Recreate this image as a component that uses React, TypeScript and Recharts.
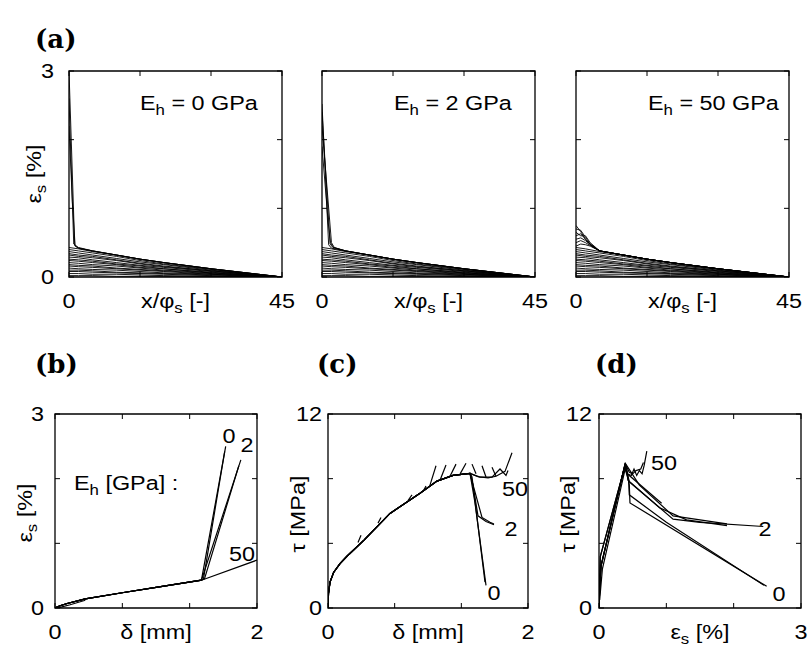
import React from "react";
import { LineChart, Line, XAxis, YAxis, ReferenceArea } from "recharts";

type Pt = [number, number];

const FONT = "'Liberation Sans', Arial, Helvetica, sans-serif";
const FS = 19.5;
const SX = 1.2;
const TICK = 5;

// ---------- (a) strain along the bar, x/phi_s
const aTicksX = [0, 15, 30, 45];
const aLabelsX = [0, 45];
const aTicksY = [0, 1, 2, 3];
const aLabelsY = [0, 3];
const aStations = [0, 2, 5, 10, 15, 20, 30, 45];
// one row per load step, strain [%] at the stations above
const aLowSteps = [
  [0.43, 0.41, 0.37, 0.32, 0.26, 0.21, 0.12, 0],
  [0.4, 0.38, 0.35, 0.3, 0.24, 0.19, 0.11, 0],
  [0.37, 0.35, 0.32, 0.27, 0.22, 0.18, 0.1, 0],
  [0.34, 0.32, 0.3, 0.25, 0.2, 0.16, 0.09, 0],
  [0.32, 0.3, 0.28, 0.24, 0.19, 0.15, 0.09, 0],
  [0.29, 0.28, 0.25, 0.21, 0.17, 0.14, 0.08, 0],
  [0.26, 0.25, 0.23, 0.19, 0.16, 0.12, 0.07, 0],
  [0.24, 0.23, 0.21, 0.18, 0.14, 0.12, 0.06, 0],
  [0.21, 0.2, 0.18, 0.16, 0.13, 0.1, 0.06, 0],
  [0.18, 0.17, 0.16, 0.13, 0.11, 0.09, 0.05, 0],
  [0.16, 0.15, 0.14, 0.12, 0.1, 0.08, 0.04, 0],
  [0.13, 0.12, 0.11, 0.1, 0.08, 0.06, 0.04, 0],
  [0.1, 0.1, 0.09, 0.07, 0.06, 0.05, 0.03, 0],
  [0.08, 0.08, 0.07, 0.06, 0.05, 0.04, 0.02, 0],
  [0.05, 0.05, 0.04, 0.04, 0.03, 0.02, 0.01, 0],
  [0.02, 0.02, 0.02, 0.01, 0.01, 0.01, 0.01, 0],
];
const aTail: Pt[] = [[5, 0.38], [10, 0.32], [15, 0.26], [20, 0.21], [30, 0.12], [45, 0]];
const aPeakE0: Pt[][] = [
  [[0, 3.0], [1.2, 0.46], [2, 0.42]],
  [[0, 2.6], [1.0, 0.48], [2, 0.43]],
  [[0, 2.2], [0.7, 1.1], [1.3, 0.45], [2, 0.42]],
];
const aPeakE2: Pt[][] = [
  [[0, 2.52], [1.4, 0.47], [2, 0.42]],
  [[0, 2.4], [1.7, 0.48], [2.3, 0.43]],
  [[0, 2.2], [2.0, 0.5], [2.6, 0.43]],
  [[0, 1.9], [1.3, 0.8], [1.8, 0.5], [2.4, 0.43]],
];
const aPeakE50: Pt[][] = [
  [[0, 0.75], [1, 0.66], [2, 0.55], [3.5, 0.44]],
  [[0, 0.7], [1, 0.68], [2, 0.58], [3, 0.48]],
  [[0, 0.65], [1, 0.6], [2, 0.6], [3, 0.5]],
  [[0, 0.6], [1, 0.63], [2, 0.55], [3, 0.48]],
  [[0, 0.55], [1, 0.57], [2, 0.53], [3, 0.47]],
  [[0, 0.5], [1, 0.53], [2, 0.5], [3, 0.46]],
  [[0, 0.45], [1, 0.48], [2, 0.47], [3, 0.45]],
];

// ---------- (b) strain vs slip
const bTicksX = [0, 0.6667, 1.3333, 2];
const bLabelsX = [0, 2];
const bTicksY = [0, 1, 2, 3];
const bLabelsY = [0, 3];
const bRise: Pt[] = [[0, 0], [0.05, 0.035], [0.12, 0.07], [0.3, 0.14], [0.68, 0.24], [1.0, 0.32], [1.45, 0.43]];
const bRiseAlt: Pt[] = [[0, 0], [0.05, 0.01], [0.15, 0.05], [0.3, 0.12]];
const bE0: Pt[] = [[1.69, 2.5]];
const bE0Alt: Pt[] = [[1.47, 0.45], [1.68, 2.42]];
const bE2: Pt[] = [[1.84, 2.29]];
const bE2Alt: Pt[] = [[1.48, 0.45], [1.82, 2.2]];
const bE50: Pt[] = [[2.0, 0.74]];

// ---------- (c) bond stress vs slip
const cTicksX = [0, 0.6667, 1.3333, 2];
const cLabelsX = [0, 2];
const cTicksY = [0, 4, 8, 12];
const cLabelsY = [0, 12];
const cRise: Pt[] = [
  [0, 0], [0.005, 0.9], [0.02, 1.6], [0.056, 2.2], [0.12, 2.75], [0.19, 3.2],
  [0.36, 4.2], [0.62, 5.85], [0.92, 7.1], [1.09, 7.85], [1.25, 8.2], [1.42, 8.33],
];
const cE0: Pt[] = [[1.47, 6.5], [1.58, 1.4]];
const cE0Alt: Pt[] = [[1.44, 8.1], [1.57, 1.6]];
const cE2: Pt[] = [[1.45, 7.6], [1.5, 5.7], [1.58, 5.35], [1.66, 5.15]];
const cE2Alt: Pt[] = [[1.46, 7.4], [1.54, 5.6], [1.62, 5.3], [1.66, 5.2]];
const cE50: Pt[] = [[1.5, 8.12], [1.6, 8.05], [1.68, 8.15], [1.77, 8.45], [1.84, 9.6]];
const cE50Alt: Pt[] = [[1.52, 8.1], [1.64, 8.1], [1.72, 8.6], [1.78, 8.2], [1.8, 8.5]];
const cSpurs: Pt[][] = [
  [[0.3, 4.05], [0.33, 4.5]],
  [[0.5, 5.25], [0.53, 5.6]],
  [[0.8, 6.65], [0.84, 7.0]],
  [[0.95, 7.2], [0.98, 7.55]],
  [[1.02, 7.6], [1.08, 8.8]],
  [[1.12, 7.9], [1.18, 8.85]],
  [[1.22, 8.15], [1.28, 8.9]],
  [[1.32, 8.28], [1.38, 8.95]],
  [[1.44, 8.9], [1.48, 8.3]],
  [[1.54, 8.8], [1.58, 8.1]],
  [[1.64, 8.7], [1.68, 8.15]],
];

// ---------- (d) bond stress vs strain
const dTicksX = [0, 1, 2, 3];
const dLabelsX = [0, 3];
const dTicksY = [0, 4, 8, 12];
const dLabelsY = [0, 12];
const dRiseA: Pt[] = [[0, 0], [0.01, 1.2], [0.03, 2.6], [0.39, 8.95]];
const dRiseB: Pt[] = [[0, 0.3], [0.02, 3.2], [0.38, 8.7]];
const dRiseC: Pt[] = [[0.01, 0.5], [0.05, 2.4], [0.4, 8.8]];
const dE0A: Pt[] = [[0.45, 7.6], [0.46, 6.5], [2.49, 1.34]];
const dE0B: Pt[] = [[0.44, 7.9], [0.45, 7.0], [1.0, 5.3], [2.45, 1.4]];
const dE2A: Pt[] = [[0.45, 7.8], [1.1, 5.5], [1.5, 5.3], [2.44, 5.04]];
const dE2B: Pt[] = [[0.43, 7.9], [0.9, 6.2], [1.3, 5.45], [1.9, 5.1]];
const dE2C: Pt[] = [[0.42, 8.3], [0.93, 6.48]];
const dE2D: Pt[] = [[0.6, 7.6], [1.1, 5.7], [1.9, 5.2]];
const dE50A: Pt[] = [[0.42, 8.3], [0.48, 8.2], [0.52, 8.6], [0.56, 8.2], [0.6, 8.5], [0.64, 8.3], [0.67, 8.8], [0.71, 9.7]];
const dE50B: Pt[] = [[0.39, 8.9], [0.45, 8.4], [0.5, 8.3], [0.55, 8.5], [0.62, 8.6], [0.66, 9.0]];

const aLow: Pt[][] = aLowSteps.map((row) => row.map((v, i) => [aStations[i], v] as Pt));

// stretched text, like the wide Helvetica of the original plot
function T({ x, y, anchor = "start", rot = false, children }: any) {
  const tf = `translate(${x} ${y})${rot ? " rotate(-90)" : ""} scale(${SX} 1)`;
  return (
    <text transform={tf} x={0} y={0} textAnchor={anchor} fontFamily={FONT} fontSize={FS} fill="#000">
      {children}
    </text>
  );
}

// base + subscript + rest, as tspans
const subbed = (base: string, s: string, rest: string) => [
  <tspan key="b">{base}</tspan>,
  <tspan key="s" fontSize={14} dy={5}>{s}</tspan>,
  <tspan key="r" dy={-5}>{rest}</tspan>,
];

type PanelProps = {
  left: number; top: number; w: number; h: number;
  xDomain: [number, number]; yDomain: [number, number];
  xTicks: number[]; xLabels: number[]; yTicks: number[]; yLabels: number[];
  gap: number; series: Pt[][]; lw: number;
};

const has = (arr: number[], v: number) => arr.some((l) => Math.abs(l - v) < 1e-6);

function Panel(p: PanelProps) {
  const m = { top: 20, right: 30, bottom: 44, left: 49 };
  const xTick = (t: any) => (
    <g>
      <line x1={t.x} y1={t.y} x2={t.x} y2={t.y - TICK} stroke="#000" />
      <line x1={t.x} y1={t.y - p.h} x2={t.x} y2={t.y - p.h + TICK} stroke="#000" />
      {has(p.xLabels, t.payload.value) && <T x={t.x} y={t.y + 31} anchor="middle">{String(t.payload.value)}</T>}
    </g>
  );
  const yTick = (t: any) => (
    <g>
      <line x1={t.x} y1={t.y} x2={t.x + TICK} y2={t.y} stroke="#000" />
      <line x1={t.x + p.w} y1={t.y} x2={t.x + p.w - TICK} y2={t.y} stroke="#000" />
      {has(p.yLabels, t.payload.value) && <T x={t.x - p.gap} y={t.y + 7} anchor="end">{String(t.payload.value)}</T>}
    </g>
  );
  return (
    <div style={{ position: "absolute", left: p.left - 50, top: p.top - m.top }}>
      <LineChart width={p.w + 50 + m.right} height={p.h + m.top + 45} margin={m}>
        <XAxis type="number" dataKey="x" domain={p.xDomain} ticks={p.xTicks} interval={0} height={1}
          tickSize={0} tickMargin={0} axisLine={false} tickLine={false} allowDataOverflow tick={xTick} />
        <YAxis type="number" domain={p.yDomain} ticks={p.yTicks} interval={0} width={1}
          tickSize={0} tickMargin={0} axisLine={false} tickLine={false} allowDataOverflow tick={yTick} />
        <ReferenceArea x1={p.xDomain[0]} x2={p.xDomain[1]} y1={p.yDomain[0]} y2={p.yDomain[1]}
          fill="none" fillOpacity={0} stroke="#000" strokeWidth={1.3} ifOverflow="visible" />
        {p.series.map((pts, i) => (
          <Line key={i} data={pts.map(([x, y]) => ({ x, y }))} dataKey="y" type="linear" stroke="#000"
            strokeWidth={p.lw} dot={false} isAnimationActive={false} />
        ))}
      </LineChart>
    </div>
  );
}

export default function App() {
  const aSpikes0 = aPeakE0.map((c) => [...c, ...aTail]);
  const aSpikes2 = aPeakE2.map((c) => [...c, ...aTail]);
  const aSpikes50 = aPeakE50.map((c) => [...c, ...aTail]);
  const head = { fontFamily: "'DejaVu Serif', serif", fontWeight: 700, fontSize: 26, fill: "#000" } as const;
  return (
    <div style={{ position: "absolute", left: 0, top: 0, width: 811, height: 648, background: "#fff", overflow: "hidden" }}>
      <Panel left={69} top={71} w={213} h={206} xDomain={[0, 45]} yDomain={[0, 3]} xTicks={aTicksX} xLabels={aLabelsX}
        yTicks={aTicksY} yLabels={aLabelsY} gap={15} lw={0.9} series={[...aLow, ...aSpikes0]} />
      <Panel left={322} top={71} w={213} h={206} xDomain={[0, 45]} yDomain={[0, 3]} xTicks={aTicksX} xLabels={aLabelsX}
        yTicks={aTicksY} yLabels={[]} gap={15} lw={0.9} series={[...aLow, ...aSpikes2]} />
      <Panel left={576} top={71} w={213} h={206} xDomain={[0, 45]} yDomain={[0, 3]} xTicks={aTicksX} xLabels={aLabelsX}
        yTicks={aTicksY} yLabels={[]} gap={15} lw={0.9} series={[...aLow, ...aSpikes50]} />
      <Panel left={55} top={414} w={202} h={194} xDomain={[0, 2]} yDomain={[0, 3]} xTicks={bTicksX} xLabels={bLabelsX}
        yTicks={bTicksY} yLabels={bLabelsY} gap={11} lw={1.2}
        series={[[...bRise, ...bE0], [...bRise, ...bE0Alt], [...bRise, ...bE2], [...bRise, ...bE2Alt], [...bRise, ...bE50], bRiseAlt]} />
      <Panel left={328} top={414} w={200} h={194} xDomain={[0, 2]} yDomain={[0, 12]} xTicks={cTicksX} xLabels={cLabelsX}
        yTicks={cTicksY} yLabels={cLabelsY} gap={6} lw={1.2}
        series={[[...cRise, ...cE0], [...cRise, ...cE0Alt], [...cRise, ...cE2], [...cRise, ...cE2Alt],
          [...cRise, ...cE50], [...cRise, ...cE50Alt], ...cSpurs]} />
      <Panel left={599} top={414} w={202} h={194} xDomain={[0, 3]} yDomain={[0, 12]} xTicks={dTicksX} xLabels={dLabelsX}
        yTicks={dTicksY} yLabels={dLabelsY} gap={7} lw={1.2}
        series={[[...dRiseA, ...dE0A], [...dRiseB, ...dE0B], [...dRiseA, ...dE2A], [...dRiseC, ...dE2B],
          [...dRiseB, ...dE2C], [...dRiseA, ...dE2D], [...dRiseA, ...dE50A], dE50B]} />

      <svg width={811} height={648} style={{ position: "absolute", left: 0, top: 0, pointerEvents: "none" }}>
        <text x={35} y={48} {...head}>(a)</text>
        <text x={35} y={373} {...head}>(b)</text>
        <text x={317} y={373} {...head}>(c)</text>
        <text x={595} y={373} {...head}>(d)</text>

        <T x={140} y={110}>{subbed("E", "h", " = 0 GPa")}</T>
        <T x={394} y={110}>{subbed("E", "h", " = 2 GPa")}</T>
        <T x={648} y={110}>{subbed("E", "h", " = 50 GPa")}</T>

        <T x={175.5} y={308} anchor="middle">{subbed("x/φ", "s", " [-]")}</T>
        <T x={428.5} y={308} anchor="middle">{subbed("x/φ", "s", " [-]")}</T>
        <T x={682.5} y={308} anchor="middle">{subbed("x/φ", "s", " [-]")}</T>
        <T x={156} y={639} anchor="middle">δ [mm]</T>
        <T x={428} y={639} anchor="middle">δ [mm]</T>
        <T x={700} y={639} anchor="middle">{subbed("ε", "s", " [%]")}</T>

        <T x={41} y={174} anchor="middle" rot>{subbed("ε", "s", " [%]")}</T>
        <T x={32} y={513} anchor="middle" rot>{subbed("ε", "s", " [%]")}</T>
        <T x={305} y={514} anchor="middle" rot>τ [MPa]</T>
        <T x={575} y={514} anchor="middle" rot>τ [MPa]</T>

        <T x={74} y={490}>{subbed("E", "h", " [GPa] :")}</T>
        <T x={229} y={443} anchor="middle">0</T>
        <T x={247} y={452} anchor="middle">2</T>
        <T x={242} y={561} anchor="middle">50</T>
        <T x={515} y={496} anchor="middle">50</T>
        <T x={511} y={536} anchor="middle">2</T>
        <T x={494} y={600} anchor="middle">0</T>
        <T x={664} y={470} anchor="middle">50</T>
        <T x={765} y={536} anchor="middle">2</T>
        <T x={779} y={601} anchor="middle">0</T>
      </svg>
    </div>
  );
}
